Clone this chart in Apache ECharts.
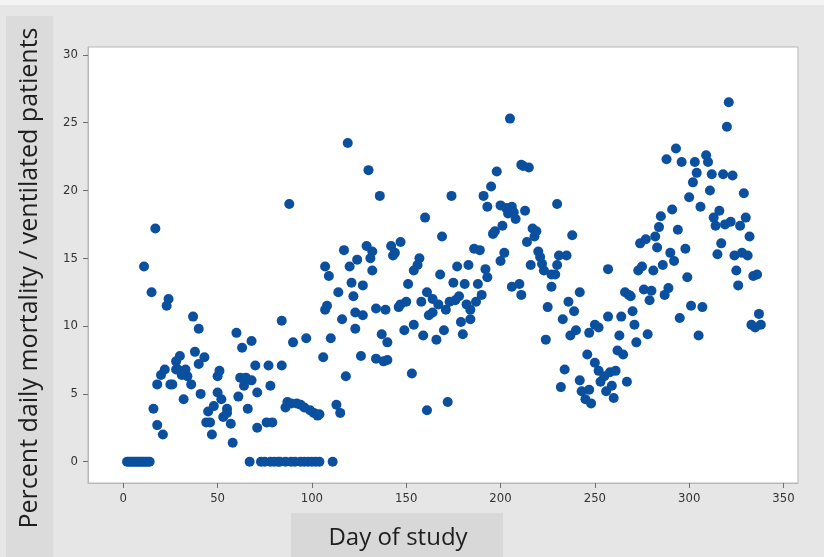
<!DOCTYPE html>
<html>
<head>
<meta charset="utf-8">
<script src="https://cdn.jsdelivr.net/npm/echarts@6/dist/echarts.min.js"></script>
<style>
  html, body { margin: 0; padding: 0; background: #e6e6e6; }
  #chart { width: 824px; height: 557px; }
</style>
</head>
<body>
<div id="chart"></div>
<script>
// day of study for each plotted point
const days = [
  2, 3, 4, 5, 6, 7, 8, 9, 10, 11, 12, 13, 14,
  11, 15, 16, 17, 18, 18, 20, 21, 22, 23, 24, 25, 26, 28, 28, 29, 30, 31, 32, 33, 34, 36,
  37, 38, 40, 40, 41, 43, 44, 45, 46, 47, 48, 50, 50, 51, 52, 53, 55, 55, 57, 58,
  60, 61, 62, 63, 64, 65, 66, 67, 68, 68, 70, 71, 71,
  73, 75, 76, 77, 78, 78, 79, 80, 82, 83, 84, 84, 86, 86, 87, 88, 89, 89, 90, 91,
  92, 94, 94, 96, 96, 97, 98, 99, 100, 101, 102, 103, 104, 104,
  106, 107, 107, 108, 109, 110, 111, 113, 114, 115, 116, 117, 118, 119, 120, 121, 122,
  123, 123, 124, 126, 127, 127, 129, 130, 131, 132, 132, 134, 134, 136, 137, 138, 139,
  140, 140, 142, 143, 144, 146, 147, 147, 149, 150, 151, 153, 154, 154, 156, 157, 158,
  159, 160, 161, 161, 162, 164, 164, 166, 167, 168, 169, 170, 171, 172, 173, 174, 175,
  176, 177, 178, 179, 180, 181, 182, 183, 184, 184, 186, 187, 188, 189, 190, 191, 192,
  193, 193, 195, 196, 197, 198, 200, 200, 201, 202, 203, 204, 205, 206, 206, 207, 208,
  210, 211, 211, 212, 213, 214, 215, 216, 217, 218, 219, 220, 221, 222, 223,
  224, 225, 227, 227, 229, 230, 230, 231, 232, 233, 234, 235, 236, 237, 238, 239, 240,
  242, 242, 243, 245, 246, 247, 247, 248, 250, 250, 252, 252, 253, 255, 256, 257, 257,
  258, 259, 260, 261, 262, 263, 264, 265, 266, 267, 268, 269, 270, 271, 272, 273, 274,
  275, 276, 277, 278, 279, 280, 281, 282, 283, 284, 285, 286, 287, 288, 289, 290, 291,
  292, 293, 294, 295, 296, 298, 299, 300, 301, 302, 303, 304, 305, 306, 307, 309, 310,
  311, 312, 313, 314, 315, 316, 317, 318, 319, 320, 321, 322, 323, 324, 325, 326, 327,
  328, 329, 330, 331, 332, 333, 334, 335, 336, 337, 338
];

// percent daily mortality / ventilated patients, same order as days
const pct = [
  0, 0, 0, 0, 0, 0, 0, 0, 0, 0, 0, 0, 0,
  14.4, 12.5, 3.9, 17.2, 5.7, 2.7, 6.4, 2.0, 6.8, 11.5, 12.0, 5.7, 5.7, 6.8, 7.4, 6.8, 7.8, 6.4, 4.6, 6.8, 6.3, 5.7,
  10.7, 8.1, 9.8, 7.2, 5.0, 7.7, 2.9, 3.7, 2.9, 2.0, 4.1, 5.1, 6.3, 6.7, 4.6, 3.3, 3.9, 3.6, 2.8, 1.4,
  9.5, 4.8, 6.2, 8.4, 5.6, 6.2, 3.9, 0, 6.0, 8.9, 7.1, 5.1, 2.5,
  0, 0, 2.9, 7.1, 5.6, 0, 2.9, 0, 0, 0, 7.1, 10.4, 4.0, 0, 4.4, 19.0, 4.3, 0, 8.8, 0,
  4.3, 4.2, 0, 4.0, 0, 9.1, 0, 3.8, 0, 3.6, 0, 3.4, 3.5, 0,
  7.7, 11.2, 14.4, 11.5, 13.7, 9.1, 0, 4.2, 12.5, 3.6, 10.5, 15.6, 6.3, 23.5, 14.4, 13.2, 12.2,
  9.8, 11.0, 14.9, 7.8, 13.0, 10.8, 15.9, 21.5, 15.0, 14.1, 15.5, 11.3, 7.6, 19.6, 9.4, 7.4, 11.2,
  7.5, 8.8, 15.9, 15.2, 15.4, 11.4, 16.2, 11.6, 9.7, 11.8, 13.1, 6.5, 14.1, 10.1, 14.5, 15.0, 11.8,
  9.3, 18.0, 3.8, 12.5, 10.8, 11.0, 12.0, 9.0, 11.6, 13.8, 16.6, 9.7, 11.2, 4.4, 11.8, 19.6, 13.2,
  11.9, 14.4, 12.2, 10.3, 9.4, 13.1, 11.6, 14.5, 11.2, 10.5, 15.7, 11.8, 13.1, 15.6, 12.3, 19.6, 14.2,
  13.6, 18.8, 20.3, 16.8, 17.0, 21.4, 18.9, 14.8, 17.4, 15.4, 18.7, 18.3, 25.3, 18.8, 12.9, 18.4, 17.9,
  13.1, 21.9, 12.3, 21.8, 18.5, 16.2, 21.7, 14.5, 17.2, 16.6, 17.0, 15.5, 15.1, 14.6, 14.1,
  9.0, 11.4, 12.9, 13.8, 13.8, 19.0, 14.5, 15.2, 5.5, 10.5, 6.8, 15.2, 11.8, 9.3, 16.7, 11.1, 9.7,
  12.5, 6.0, 5.2, 4.6, 7.9, 5.3, 9.5, 4.3, 10.1, 7.3, 9.9, 6.7, 5.9, 6.3, 5.2, 10.7, 14.2,
  6.6, 5.6, 4.7, 6.7, 8.2, 9.3, 10.7, 7.9, 12.5, 5.9, 12.3, 12.2, 11.1, 10.1, 8.8, 14.1, 16.1,
  14.4, 12.7, 16.4, 9.4, 11.9, 12.6, 14.1, 16.6, 15.8, 17.3, 18.1, 14.5, 12.3, 22.3, 12.8, 15.4, 18.6,
  14.8, 23.1, 17.1, 10.6, 22.1, 15.7, 13.6, 19.5, 11.5, 20.6, 22.1, 21.3, 9.3, 18.8, 11.4, 22.6, 22.1,
  20.0, 21.2, 18.0, 17.4, 15.3, 18.5, 16.1, 21.2, 17.5, 24.7, 26.5, 17.7, 21.1, 15.2, 14.1, 13.0, 17.4,
  15.4, 19.8, 18.0, 15.2, 16.6, 10.1, 13.7, 9.9, 13.8, 10.9, 10.1
];

const xTicks = [0, 50, 100, 150, 200, 250, 300, 350];
const yTicks = [0, 5, 10, 15, 20, 25, 30];

const chart = echarts.init(document.getElementById('chart'));

const points = days.map((d, i) => [d, pct[i]]);

const axisText = {
  color: '#333333',
  fontSize: 13,
  fontFamily: 'DejaVu Sans Condensed',
};

// axis line sits on the grid border, ticks point outward
const edge = { show: true, onZero: false, lineStyle: { color: '#b8b8b8', width: 1 } };
const tick = { show: true, length: 5, lineStyle: { color: '#6e6e6e', width: 1 } };

const option = {
  animation: false,
  backgroundColor: '#e6e6e6',
  graphic: [
    // light strip along the top edge
    { type: 'rect', left: 0, top: 0, shape: { width: 824, height: 5 }, style: { fill: '#f3f3f3' }, z: -1 },
    // panel behind the y axis title
    { type: 'rect', left: 6, top: 16, shape: { width: 47, height: 541 }, style: { fill: '#dbdbdb' }, z: -1 },
    // panel behind the x axis title
    { type: 'rect', left: 291, top: 513, shape: { width: 212, height: 44 }, style: { fill: '#d8d8d8' }, z: -1 },
    {
      type: 'text',
      x: 30,
      y: 278,
      rotation: Math.PI / 2,
      style: {
        text: 'Percent daily mortality / ventilated patients',
        fill: '#1e1e1e',
        font: '25px "Open Sans"',
        textAlign: 'center',
        textVerticalAlign: 'middle',
      },
    },
    {
      type: 'text',
      x: 398,
      y: 538,
      style: {
        text: 'Day of study',
        fill: '#1e1e1e',
        font: '24px "Open Sans"',
        textAlign: 'center',
        textVerticalAlign: 'middle',
      },
    },
  ],
  grid: {
    left: 88,
    top: 47,
    right: 26,
    bottom: 74,
    show: true,
    backgroundColor: '#ffffff',
    borderColor: '#b8b8b8',
    borderWidth: 1,
  },
  xAxis: {
    type: 'value',
    min: -18.7,
    max: 357.7,
    axisLine: edge,
    splitLine: { show: false },
    axisTick: { ...tick, customValues: xTicks },
    axisLabel: { ...axisText, margin: 9, customValues: xTicks },
  },
  yAxis: {
    type: 'value',
    min: -1.57,
    max: 30.58,
    axisLine: edge,
    splitLine: { show: false },
    axisTick: { ...tick, customValues: yTicks },
    axisLabel: { ...axisText, margin: 10, customValues: yTicks },
  },
  series: [
    {
      type: 'scatter',
      data: points,
      symbol: 'circle',
      symbolSize: 10,
      itemStyle: { color: '#0b4f9f', opacity: 1 },
    },
  ],
};

chart.setOption(option);
</script>
</body>
</html>
